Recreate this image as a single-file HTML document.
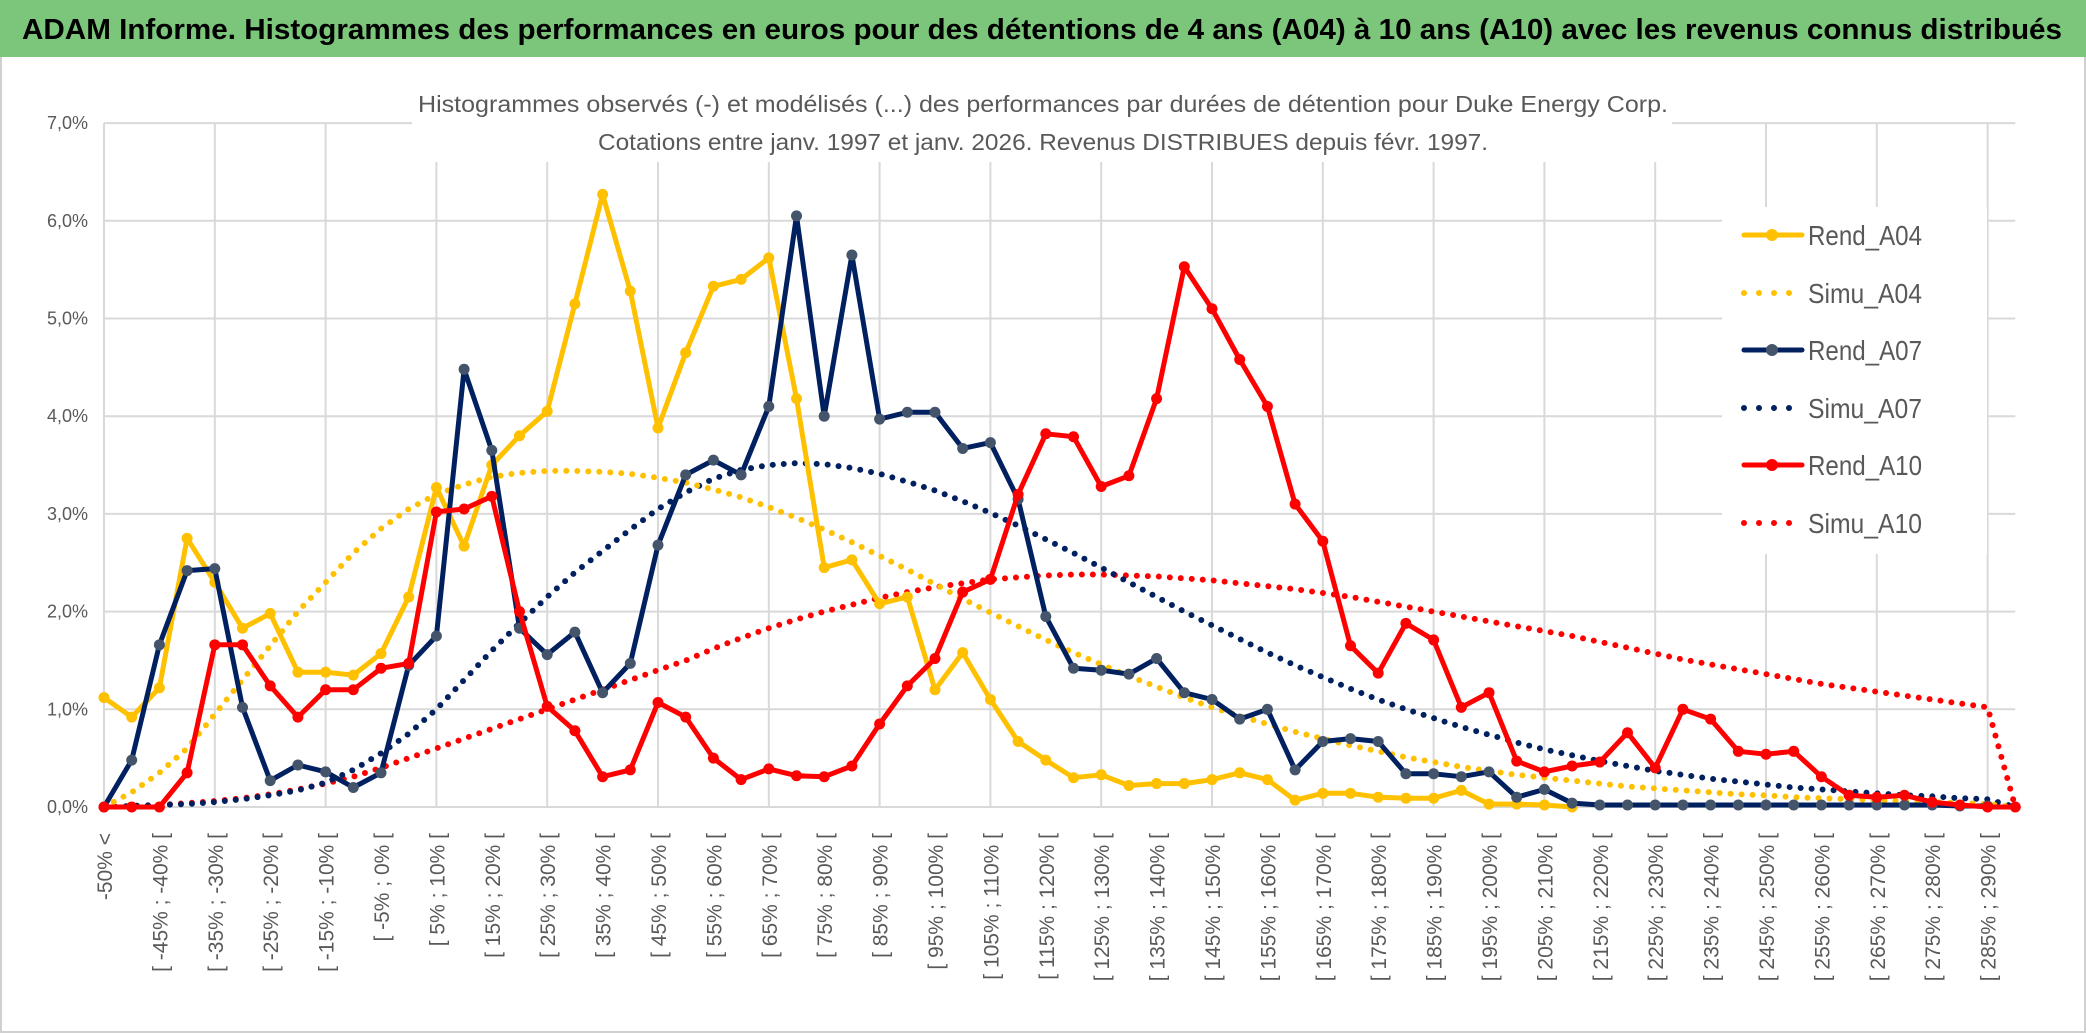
<!DOCTYPE html>
<html><head><meta charset="utf-8">
<style>
html,body{margin:0;padding:0;background:#fff;}
svg{display:block;font-family:"Liberation Sans",sans-serif;}
</style></head>
<body>
<svg id="chart" width="2086" height="1033" viewBox="0 0 2086 1033" xmlns="http://www.w3.org/2000/svg">
<rect x="0" y="0" width="2086" height="1033" fill="#fff"/>
<rect x="1" y="1" width="2084" height="1031" fill="none" stroke="#d0d0d0" stroke-width="2"/>
<rect x="0" y="0" width="2086" height="57" fill="#7cc67c"/>
<text x="22" y="39" font-size="29" font-weight="bold" fill="#000" textLength="2040" lengthAdjust="spacingAndGlyphs">ADAM Informe. Histogrammes des performances en euros pour des détentions de 4 ans (A04) à 10 ans (A10) avec les revenus connus distribués</text>
<g id="grid"></g>
<rect x="412" y="80" width="1260" height="82" fill="#fff"/>
<text x="1043" y="112" font-size="23" fill="#595959" text-anchor="middle" textLength="1250" lengthAdjust="spacingAndGlyphs">Histogrammes observés (-) et modélisés (...) des performances par durées de détention pour Duke Energy Corp.</text>
<text x="1043" y="150" font-size="23" fill="#595959" text-anchor="middle" textLength="890" lengthAdjust="spacingAndGlyphs">Cotations entre janv. 1997 et janv. 2026. Revenus DISTRIBUES depuis févr. 1997.</text>
<g id="yaxis"></g>
<g id="xaxis"></g>
<g id="series"></g>
<g id="legend"></g>
</svg>
<script>
const rendA04 = [1.12,0.92,1.22,2.75,2.3,1.83,1.98,1.38,1.38,1.35,1.57,2.15,3.27,2.67,3.5,3.8,4.05,5.15,6.27,5.28,3.88,4.65,5.33,5.4,5.62,4.18,2.45,2.53,2.08,2.15,1.2,1.58,1.1,0.67,0.48,0.3,0.33,0.22,0.24,0.24,0.28,0.35,0.28,0.07,0.14,0.14,0.1,0.09,0.09,0.17,0.03,0.03,0.02,0.0];
const rendA07 = [0,0.48,1.66,2.42,2.44,1.02,0.27,0.43,0.36,0.2,0.35,1.45,1.75,4.48,3.65,1.83,1.56,1.79,1.17,1.47,2.68,3.4,3.55,3.4,4.1,6.05,4.0,5.65,3.97,4.04,4.04,3.67,3.73,3.15,1.95,1.42,1.4,1.36,1.52,1.17,1.1,0.9,1.0,0.38,0.67,0.7,0.67,0.34,0.34,0.31,0.36,0.1,0.18,0.04,0.02,0.02,0.02,0.02,0.02,0.02,0.02,0.02,0.02,0.02,0.02,0.02,0.02,0.01,0.01];
const rendA10 = [0,0,0,0.35,1.66,1.66,1.24,0.92,1.2,1.2,1.42,1.47,3.02,3.05,3.18,2.0,1.03,0.78,0.31,0.38,1.07,0.92,0.5,0.28,0.39,0.32,0.31,0.42,0.85,1.24,1.52,2.2,2.33,3.2,3.82,3.79,3.28,3.39,4.18,5.53,5.1,4.58,4.1,3.1,2.72,1.65,1.37,1.88,1.71,1.02,1.17,0.47,0.36,0.42,0.46,0.76,0.4,1.0,0.9,0.57,0.54,0.57,0.31,0.12,0.1,0.12,0.05,0.02,0,0];
const simuA04 = [0,0.15,0.35,0.6,0.95,1.3,1.65,2.0,2.3,2.6,2.85,3.05,3.2,3.3,3.38,3.42,3.44,3.44,3.43,3.41,3.37,3.32,3.25,3.17,3.07,2.96,2.84,2.71,2.57,2.43,2.28,2.13,1.99,1.85,1.71,1.58,1.46,1.34,1.23,1.12,1.02,0.93,0.85,0.77,0.7,0.63,0.57,0.51,0.46,0.41,0.37,0.33,0.3,0.27,0.24,0.21,0.19,0.17,0.15,0.13,0.12,0.1,0.09,0.08,0.07,0.06,0.05,0.04,0.03,0];
const simuA07 = [0,0.01,0.02,0.03,0.05,0.08,0.12,0.17,0.25,0.38,0.55,0.75,1.0,1.3,1.6,1.88,2.15,2.4,2.62,2.84,3.05,3.22,3.36,3.45,3.5,3.52,3.51,3.47,3.41,3.33,3.24,3.13,3.01,2.88,2.74,2.6,2.45,2.3,2.15,2.0,1.86,1.72,1.58,1.45,1.33,1.21,1.1,1.0,0.91,0.82,0.74,0.66,0.59,0.53,0.47,0.42,0.37,0.33,0.29,0.26,0.23,0.2,0.18,0.16,0.14,0.12,0.11,0.09,0.08,0];
const simuA10 = [0,0.01,0.02,0.04,0.06,0.09,0.13,0.18,0.24,0.31,0.4,0.5,0.6,0.7,0.8,0.9,1.0,1.1,1.2,1.3,1.4,1.5,1.62,1.73,1.83,1.92,2.0,2.07,2.14,2.2,2.25,2.29,2.33,2.35,2.37,2.38,2.38,2.37,2.36,2.34,2.32,2.29,2.26,2.23,2.19,2.15,2.1,2.05,2.0,1.95,1.9,1.85,1.8,1.75,1.69,1.63,1.57,1.51,1.46,1.41,1.36,1.31,1.26,1.22,1.18,1.14,1.1,1.06,1.02,0];
const yTicks = [0,1,2,3,4,5,6,7];
const categories = ["-50% <"];
for (let a = -50; a < 290; a += 5) categories.push("[ " + a + "% ; " + (a + 5) + "% [");
categories.push("> 290%");

const NS = "http://www.w3.org/2000/svg";
const X0 = 104, STEP = 27.7, Y0 = 807, YPX = 97.7;
function xs(i){ return X0 + i * STEP; }
function ys(v){ return Y0 - v * YPX; }
function mk(tag, attrs, parent){ const e = document.createElementNS(NS, tag); for (const k in attrs) e.setAttribute(k, attrs[k]); parent.appendChild(e); return e; }

const grid = document.getElementById("grid");
yTicks.forEach(t => {
  const l = mk("line", {x1: X0, x2: xs(categories.length - 1), y1: ys(t), y2: ys(t), stroke: "#d9d9d9", "stroke-width": 2}, grid);
  
  
});
for (let i = 0; i < categories.length; i += 4) {
  const l = mk("line", {x1: xs(i), x2: xs(i), y1: ys(7), y2: ys(0), stroke: "#d9d9d9", "stroke-width": 2}, grid);
  
  
}
const yax = document.getElementById("yaxis");
yTicks.forEach(t => {
  const e = mk("text", {x: 88, y: ys(t) + 6, "font-size": 18, fill: "#595959", "text-anchor": "end"}, yax);
  e.textContent = t.toFixed(1).replace(".", ",") + "%";
  
  
});
const xax = document.getElementById("xaxis");
for (let i = 0; i < categories.length - 1; i += 2) {
  const x = xs(i) + 8, y = 833;
  const e = mk("text", {x: x, y: y, "font-size": 21, fill: "#595959", "text-anchor": "end", transform: "rotate(-90 " + x + " " + y + ")"}, xax);
  e.textContent = categories[i];
  
  
}
const ser = document.getElementById("series");
function pts(arr){ return arr.map((v, i) => xs(i).toFixed(1) + "," + ys(v).toFixed(1)).join(" "); }
function dotted(arr, color, name){
  const p = mk("polyline", {points: pts(arr), fill: "none", stroke: color, "stroke-width": 6, "stroke-linecap": "round", "stroke-dasharray": "0 11"}, ser);
  
  
}
function solid(arr, color, mcolor, name){
  const p = mk("polyline", {points: pts(arr), fill: "none", stroke: color, "stroke-width": 5, "stroke-linejoin": "round"}, ser);
  
  
  arr.forEach((v, i) => {
    const c = mk("circle", {cx: xs(i), cy: ys(v), r: 5.5, fill: mcolor}, ser);
    
    
  });
}
dotted(simuA10, "#ff0000", "simu-a10-line");
dotted(simuA07, "#002060", "simu-a07-line");
dotted(simuA04, "#ffc000", "simu-a04-line");
solid(rendA04, "#ffc000", "#ffc000", "rend-a04-line");
solid(rendA07, "#002060", "#44546a", "rend-a07-line");
solid(rendA10, "#ff0000", "#ff0000", "rend-a10-line");

const leg = document.getElementById("legend");
const bg = mk("rect", {x: 1722, y: 207, width: 265, height: 347, fill: "#fff"}, leg);


const legNames = ["Rend_A04","Simu_A04","Rend_A07","Simu_A07","Rend_A10","Simu_A10"];
const legColors = ["#ffc000","#ffc000","#002060","#002060","#ff0000","#ff0000"];
const legY = [235,293,350,408,465,523];
legNames.forEach((n, k) => {
  const y = legY[k];
  const isSim = n.startsWith("Simu");
  const l = mk("line", {x1: 1744, x2: 1802, y1: y, y2: y, stroke: legColors[k], "stroke-width": isSim ? 6 : 5, "stroke-linecap": "round"}, leg);
  if (isSim) l.setAttribute("stroke-dasharray", "0 15");
  
  
  if (!isSim) {
    const c = mk("circle", {cx: 1772, cy: y, r: 6, fill: k === 2 ? "#44546a" : legColors[k]}, leg);
    
    
  }
  const t = mk("text", {x: 1808, y: y + 10, "font-size": 28, fill: "#595959", textLength: 114, lengthAdjust: "spacingAndGlyphs"}, leg);
  t.textContent = n;
  
  
});
</script>
</body></html>
